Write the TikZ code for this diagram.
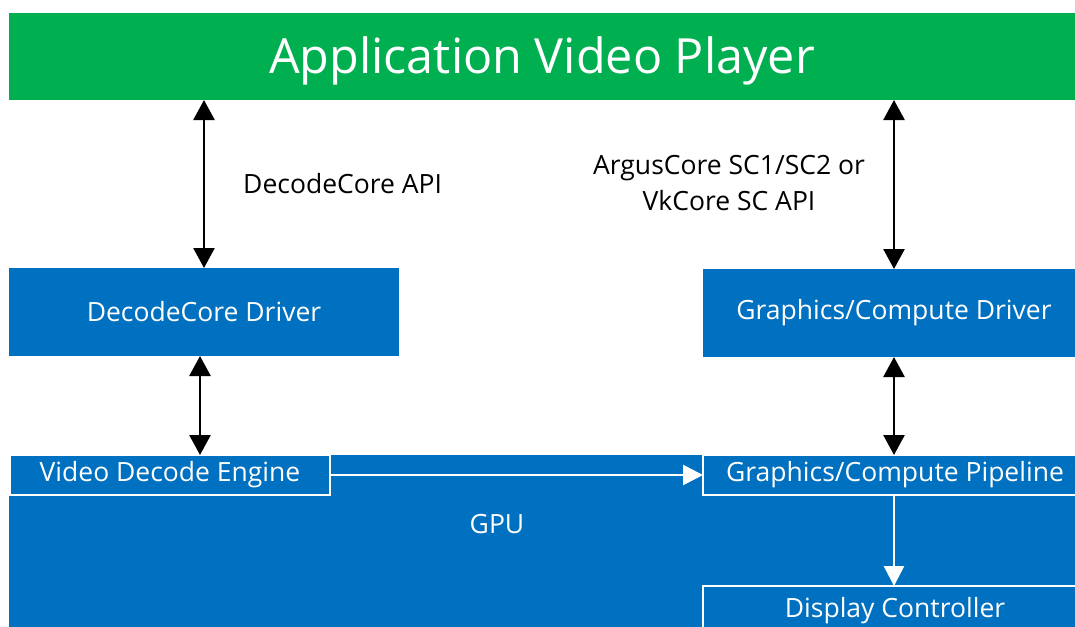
\documentclass[tikz,border=0pt]{standalone}
\usepackage{fontspec}
\setmainfont{Open Sans}
\usetikzlibrary{arrows.meta}
\definecolor{appgreen}{HTML}{00AF50}
\definecolor{gpublue}{HTML}{0070C0}
\tikzset{
  blk/.style={fill=gpublue, draw=none, text=white, inner sep=0pt, outer sep=0pt, anchor=north west},
  subblk/.style={fill=gpublue, draw=white, line width=2pt, text=white, inner sep=0pt, outer sep=0pt, anchor=north west},
  biarrow/.style={draw=black, line width=2.6pt, {Triangle[length=20pt,width=21pt]}-{Triangle[length=20pt,width=21pt]}},
  warrow/.style={draw=white, line width=2.6pt, -{Triangle[length=20pt,width=20pt]}},
  lbl/.style={font=\fontsize{26.5}{36}\selectfont, text=black, inner sep=0pt},
  bfont/.style={font=\fontsize{26.5}{30}\selectfont},
}
\begin{document}
\begin{tikzpicture}[x=1pt,y=-1pt]
\useasboundingbox (0,0) rectangle (1075,626);
\clip (0,0) rectangle (1075,626);
\fill[white] (0,0) rectangle (1075,626);
% top bar
\node[blk, fill=appgreen, minimum width=1066pt, minimum height=87pt, text height=34.6pt, text depth=0pt, font=\fontsize{48.5}{60}\selectfont] (app) at (9,13) {Application Video Player};
% drivers
\node[blk, bfont, minimum width=390pt, minimum height=88pt] (dd) at (9,268) {DecodeCore Driver};
\node[blk, bfont, minimum width=382pt, minimum height=88pt] (gd) at (703,269) {Graphics/Compute Driver};
% GPU
\node[blk, minimum width=1076pt, minimum height=185pt] (gpu) at (9,455) {};
\node[text=white, bfont, inner sep=0pt] (gpulbl) at (497,524) {GPU};
\node[subblk, bfont, minimum width=320pt, minimum height=40pt] (vde) at (10,455) {Video Decode Engine};
\node[subblk, bfont, minimum width=384pt, minimum height=40pt] (pipe) at (703,455) {Graphics/Compute Pipeline};
\node[subblk, bfont, minimum width=384pt, minimum height=50pt] (disp) at (703,586) {\raisebox{8pt}{Display Controller}};
% labels
\node[lbl, anchor=west] (l1) at (243,184) {DecodeCore API};
\node[lbl, align=center] (l2) at (729,183) {ArgusCore SC1/SC2 or\\VkCore SC API};
% arrows
\draw[biarrow] (dd.north |- app.south) -- (dd.north);
\draw[biarrow] (gd.north |- app.south) -- (gd.north);
\draw[biarrow] ([xshift=-4pt]dd.south) -- ([xshift=-4pt]dd.south |- vde.north);
\draw[biarrow] (gd.south) -- (gd.south |- pipe.north);
\draw[warrow] (vde.east) -- (pipe.west);
\draw[warrow] (pipe.south -| gd.south) -- (disp.north -| gd.south);
\end{tikzpicture}
\end{document}
